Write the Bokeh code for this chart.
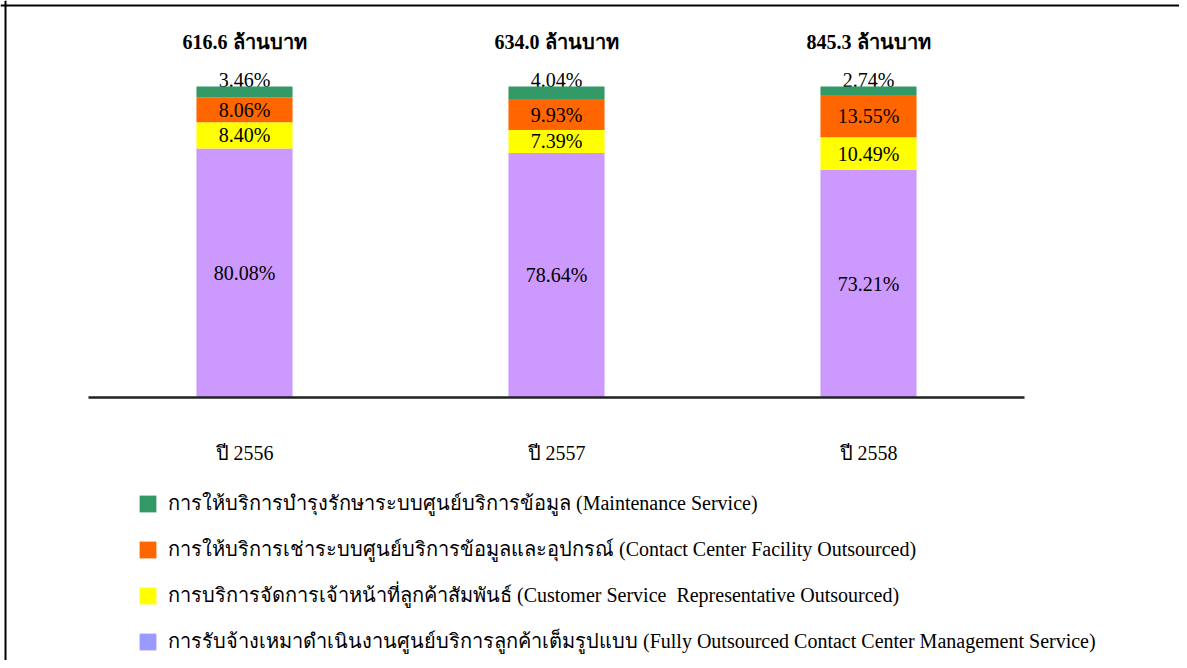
from bokeh.plotting import figure
from bokeh.models import Range1d, ColumnDataSource, Legend, LegendItem, Span
from bokeh.core.properties import value
from bokeh.embed import file_html
from bokeh.resources import INLINE

# ---- data ----
years = ["ปี 2556", "ปี 2557", "ปี 2558"]
totals = ["616.6 ล้านบาท", "634.0 ล้านบาท", "845.3 ล้านบาท"]
fully = [80.08, 78.64, 73.21]        # Fully Outsourced Contact Center Management Service
csr = [8.40, 7.39, 10.49]            # Customer Service Representative Outsourced
facility = [8.06, 9.93, 13.55]       # Contact Center Facility Outsourced
maint = [3.46, 4.04, 2.74]           # Maintenance Service

legend_labels = [
    "การให้บริการบำรุงรักษาระบบศูนย์บริการข้อมูล (Maintenance Service)",
    "การให้บริการเช่าระบบศูนย์บริการข้อมูลและอุปกรณ์ (Contact Center Facility Outsourced)",
    "การบริการจัดการเจ้าหน้าที่ลูกค้าสัมพันธ์ (Customer Service  Representative Outsourced)",
    "การรับจ้างเหมาดำเนินงานศูนย์บริการลูกค้าเต็มรูปแบบ (Fully Outsourced Contact Center Management Service)",
]

# ---- styles ----
FONT = "Liberation Serif"
bar_colors = ["#CC99FF", "#FFFF00", "#FF6600", "#339966"]      # bottom -> top
legend_colors = ["#339966", "#FF6600", "#FFFF00", "#9999FF"]   # legend order

W, H = 1179, 660
XPX = 312.0      # px per category
X0 = 244.0       # px position of first category centre
YPX = 3.11       # px per percent
Y0 = 397.0       # px from top where 0% lies

p = figure(width=W, height=H, output_backend="svg", toolbar_location=None,
           x_range=Range1d(-X0 / XPX, (W - X0) / XPX),
           y_range=Range1d(-(H - Y0) / YPX, Y0 / YPX),
           min_border=0, min_border_left=0, min_border_right=0,
           min_border_top=0, min_border_bottom=0)
p.axis.visible = False
p.grid.visible = False
p.outline_line_color = None
p.background_fill_color = "white"
p.border_fill_color = "white"

xs = list(range(len(years)))
series = [fully, csr, facility, maint]

# compute stacks
stacks = []
bottoms = [0.0] * len(xs)
for vals in series:
    tops = [b + v for b, v in zip(bottoms, vals)]
    stacks.append((bottoms, tops, vals))
    bottoms = tops

# top-segment labels sit on top of the bars (drawn first, partly covered)
b_last, t_last, v_last = stacks[-1]
top_src = ColumnDataSource(dict(x=xs, y=t_last, t=["%.2f%%" % v for v in v_last]))
p.text(x="x", y="y", text="t", source=top_src, text_align="center",
       text_baseline="bottom", y_offset=4, text_font=value(FONT),
       text_font_size="20px", text_color="black")

# stacked bars
label_x, label_y, label_t = [], [], []
for i, ((bots, tops, vals), col) in enumerate(zip(stacks, bar_colors)):
    src = ColumnDataSource(dict(x=xs, bottom=bots, top=tops))
    p.vbar(x="x", bottom="bottom", top="top", width=0.308, source=src,
           fill_color=col, line_color=None)
    if i < len(stacks) - 1:
        for j in xs:
            label_x.append(j)
            label_y.append((bots[j] + tops[j]) / 2)
            label_t.append("%.2f%%" % vals[j])

lab = ColumnDataSource(dict(x=label_x, y=label_y, t=label_t))
p.text(x="x", y="y", text="t", source=lab, text_align="center",
       text_baseline="middle", text_font=value(FONT), text_font_size="20px",
       text_color="black")

# totals above
tsrc = ColumnDataSource(dict(x=xs, y=[114.4] * 3, t=totals))
p.text(x="x", y="y", text="t", source=tsrc, text_align="center",
       text_baseline="middle", text_font=value(FONT), text_font_size="20px",
       text_font_style="bold", text_color="black")

# year labels
ysrc = ColumnDataSource(dict(x=xs, y=[-17.7] * 3, t=years))
p.text(x="x", y="y", text="t", source=ysrc, text_align="center",
       text_baseline="middle", text_font=value(FONT), text_font_size="20px",
       text_color="black")

# baseline axis line
p.segment(x0=[-0.5], y0=[0], x1=[len(xs) - 0.5], y1=[0],
          line_color="#222222", line_width=2.5)

# frame lines (top / left)
p.add_layout(Span(location=(Y0 - 5.0) / YPX, dimension="width",
                  line_color="black", line_width=2))
p.add_layout(Span(location=(5.0 - X0) / XPX, dimension="height",
                  line_color="black", line_width=2))

# legend
items = []
for lbl, col in zip(legend_labels, legend_colors):
    r = p.vbar(x=[-100], top=[-1000], bottom=[-1001], width=0.3,
               fill_color=col, line_color=None)
    items.append(LegendItem(label=lbl, renderers=[r]))
leg = Legend(items=items, location=(137, 3), orientation="vertical",
             padding=0, margin=0, spacing=14, glyph_width=21, glyph_height=21,
             label_standoff=10, label_height=20,
             label_text_font=FONT, label_text_font_size="20px",
             label_text_color="black", label_text_baseline="middle",
             border_line_color=None, background_fill_alpha=0)
p.add_layout(leg)

open("out.html", "w").write(file_html(p, INLINE))
